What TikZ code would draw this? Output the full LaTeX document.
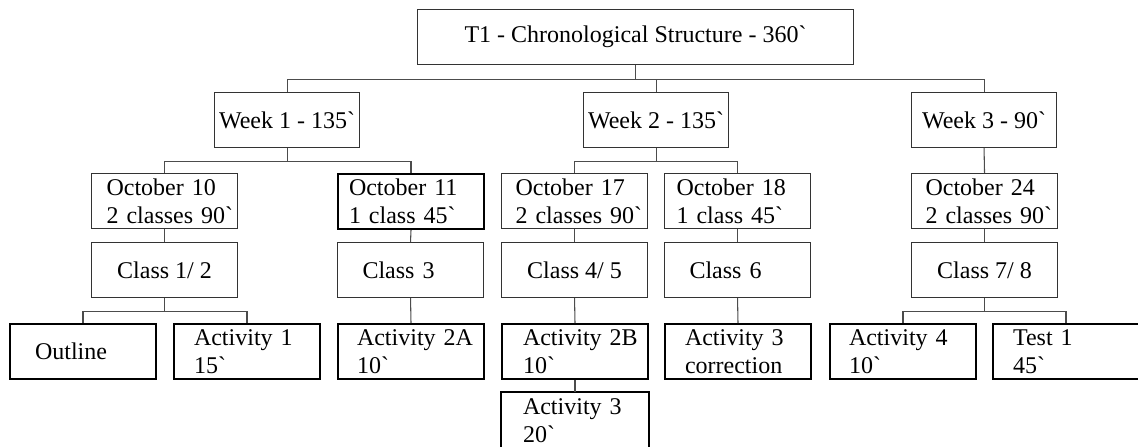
\documentclass[tikz,border=0pt]{standalone}
\usepackage{fontspec}
\setmainfont{Liberation Serif}[Ligatures=TeXOff]
\begin{document}
\begin{tikzpicture}[x=0.75pt,y=-0.75pt,
  bx/.style={draw=black!80, line width=0.8pt, anchor=north west, inner ysep=0pt,
    minimum height=41.25pt, font=\fontsize{18}{21}\selectfont},
  bxk/.style={bx, draw=black, line width=1.5pt},
  cw/.style={minimum width=#1, inner xsep=0pt, align=center},
  lw/.style 2 args={text width=#1, inner xsep=#2, align=left},
  conn/.style={draw=black!70, line width=0.8pt},
  edgek/.style={draw=black, line width=1.5pt}]
\useasboundingbox (0,0) rectangle (1138,446);

% level 0
\node[bx, cw=327pt] (top) at (417,9) {T1 - Chronological Structure - 360`};
% level 1
\node[bx, cw=108.75pt] (w1) at (214,92) {Week 1 - 135`};
\node[bx, cw=108.75pt] (w2) at (583,92) {Week 2 - 135`};
\node[bx, cw=108.75pt] (w3) at (911,92) {Week 3 - 90`};
% level 2
\node[bx, lw={87pt}{11.25pt}] (o10) at (91,173) {\mbox{October 10}\\\mbox{2 classes 90`}};
\node[bxk, lw={93pt}{8.25pt}] (o11) at (337,173) {\mbox{October 11}\\\mbox{1 class 45`}};
\node[bx, lw={88.5pt}{10.5pt}] (o17) at (501,173) {\mbox{October 17}\\\mbox{2 classes 90`}};
\node[bx, lw={91.5pt}{9pt}] (o18) at (664,173) {\mbox{October 18}\\\mbox{1 class 45`}};
\node[bx, lw={88.5pt}{10.5pt}] (o24) at (911,173) {\mbox{October 24}\\\mbox{2 classes 90`}};
% level 3
\node[bx, cw=109.5pt] (c12) at (91,242) {Class 1/ 2};
\node[bx, lw={72pt}{18.75pt}] (c3) at (337,242) {\mbox{Class 3}};
\node[bx, cw=109.5pt] (c45) at (501,242) {Class 4/ 5};
\node[bx, lw={72pt}{18.75pt}] (c6) at (664,242) {\mbox{Class 6}};
\node[bx, cw=109.5pt] (c78) at (911,242) {Class 7/ 8};
% level 4
\node[bxk, lw={72pt}{18.75pt}] (out) at (9,323) {\mbox{Outline}};
\node[bxk, lw={79.5pt}{15pt}] (a1) at (173,323) {\mbox{Activity 1}\\\mbox{15`}};
\node[bxk, lw={81pt}{14.25pt}] (a2a) at (337,323) {\mbox{Activity 2A}\\\mbox{10`}};
\node[bxk, lw={78pt}{15.75pt}] (a2b) at (501,323) {\mbox{Activity 2B}\\\mbox{10`}};
\node[bxk, lw={79.5pt}{15pt}] (a3c) at (664,323) {\mbox{Activity 3}\\\mbox{correction}};
\node[bxk, lw={81pt}{14.25pt}] (a4) at (829,323) {\mbox{Activity 4}\\\mbox{10`}};
\node[bxk, lw={79.5pt}{15pt}] (t1) at (992,323) {\mbox{Test 1}\\\mbox{45`}};
% level 5
\node[bxk, draw=none, lw={78pt}{15.75pt}] (a3) at (501,392) {\mbox{Activity 3}\\\mbox{20`}};
\draw[edgek] (a3.south west) -- (a3.north west) -- (a3.north east) -- (a3.south east);

% connectors
\draw[conn] (top.south) -- ++(0,14) -| (w1.north);
\draw[conn] (top.south) -- ++(0,14) -| (w2.north);
\draw[conn] (top.south) -- ++(0,14) -| (w3.north);
\draw[conn] (w1.south) -- ++(0,13) -| (o10.north);
\draw[conn] (w1.south) -- ++(0,13) -| (o11.north);
\draw[conn] (w2.south) -- ++(0,13) -| (o17.north);
\draw[conn] (w2.south) -- ++(0,13) -| (o18.north);
\draw[conn] (w3.south) -- (o24.north);
\draw[conn] (o10.south) -- (c12.north);
\draw[conn] (o11.south) -- (c3.north);
\draw[conn] (o17.south) -- (c45.north);
\draw[conn] (o18.south) -- (c6.north);
\draw[conn] (o24.south) -- (c78.north);
\draw[conn] (c12.south) -- ++(0,13) -| (out.north);
\draw[conn] (c12.south) -- ++(0,13) -| (a1.north);
\draw[conn] (c3.south) -- (a2a.north);
\draw[conn] (c45.south) -- (a2b.north);
\draw[conn] (a2b.south) -- (a3.north);
\draw[conn] (c6.south) -- (a3c.north);
\draw[conn] (c78.south) -- ++(0,13) -| (a4.north);
\draw[conn] (c78.south) -- ++(0,13) -| (t1.north);
\end{tikzpicture}
\end{document}
